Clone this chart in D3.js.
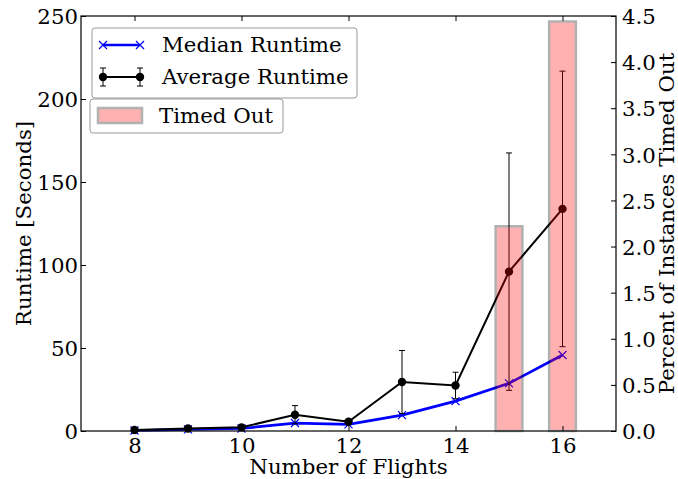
<!DOCTYPE html>
<html>
<head>
<meta charset="utf-8">
<script src="https://cdn.jsdelivr.net/npm/d3@7"></script>
<style>
  body { margin: 0; background: #fff; }
  svg text { font-family: "DejaVu Serif", serif; fill: #000; }
</style>
</head>
<body>
<svg id="chart" width="678" height="479"></svg>
<script>
// data
var flights = [8, 9, 10, 11, 12, 13, 14, 15, 16];
var medianRuntime = [0.3, 1.0, 1.5, 4.8, 4.0, 9.6, 18.0, 28.7, 45.8];
var averageRuntime = [0.6, 1.5, 2.2, 9.8, 5.6, 29.5, 27.4, 96.0, 133.8];
var averageError = [0.6, 0.8, 0.8, 5.5, 1.0, 19.0, 8.0, 71.5, 83.0];
var timedOut = [0, 0, 0, 0, 0, 0, 0, 2.22, 4.44];
var xTicks = [8, 10, 12, 14, 16];
var leftTicks = [0, 50, 100, 150, 200, 250];
var rightTicks = [0, 0.5, 1, 1.5, 2, 2.5, 3, 3.5, 4, 4.5];

// set the dimensions and margins of the graph
var margin = {top: 16, right: 62, bottom: 48, left: 81},
    width = 678 - margin.left - margin.right,
    height = 479 - margin.top - margin.bottom;

var x = d3.scaleLinear().domain([7, 17]).range([0, width]);
var y = d3.scaleLinear().domain([0, 250]).range([height, 0]);
var y2 = d3.scaleLinear().domain([0, 4.5]).range([height, 0]);

var svg = d3.select("#chart")
  .append("g")
    .attr("transform", "translate(" + margin.left + "," + margin.top + ")");

var fontSize = "21.3px";
var tickLen = 5;

// median line (blue, x markers)
var line = d3.line()
    .x(function(d, i) { return x(flights[i]); })
    .y(function(d) { return y(d); });

svg.append("path")
    .datum(medianRuntime)
    .attr("d", line)
    .attr("fill", "none")
    .attr("stroke", "#0000ff")
    .attr("stroke-width", 2.7);

function crossPath(cx, cy, s) {
  return "M" + (cx - s) + "," + (cy - s) + "L" + (cx + s) + "," + (cy + s) +
         "M" + (cx - s) + "," + (cy + s) + "L" + (cx + s) + "," + (cy - s);
}

svg.selectAll(".medmark")
  .data(medianRuntime)
  .join("path")
    .attr("class", "medmark")
    .attr("d", function(d, i) { return crossPath(x(flights[i]), y(d), 4); })
    .attr("stroke", "#0000ff")
    .attr("stroke-width", 1.2)
    .attr("fill", "none");

// average line with error bars
svg.append("path")
    .datum(averageRuntime)
    .attr("d", line)
    .attr("fill", "none")
    .attr("stroke", "#000")
    .attr("stroke-width", 2);

var errs = svg.selectAll(".err")
  .data(averageRuntime)
  .join("g")
    .attr("class", "err");

errs.append("line")
    .attr("x1", function(d, i) { return x(flights[i]); })
    .attr("x2", function(d, i) { return x(flights[i]); })
    .attr("y1", function(d, i) { return y(d + averageError[i]); })
    .attr("y2", function(d, i) { return y(Math.max(0, d - averageError[i])); })
    .attr("stroke", "#000")
    .attr("stroke-width", 1);

errs.append("line")
    .attr("x1", function(d, i) { return x(flights[i]) - 3; })
    .attr("x2", function(d, i) { return x(flights[i]) + 3; })
    .attr("y1", function(d, i) { return y(d + averageError[i]); })
    .attr("y2", function(d, i) { return y(d + averageError[i]); })
    .attr("stroke", "#000")
    .attr("stroke-width", 1);

errs.append("line")
    .attr("x1", function(d, i) { return x(flights[i]) - 3; })
    .attr("x2", function(d, i) { return x(flights[i]) + 3; })
    .attr("y1", function(d, i) { return y(Math.max(0, d - averageError[i])); })
    .attr("y2", function(d, i) { return y(Math.max(0, d - averageError[i])); })
    .attr("stroke", "#000")
    .attr("stroke-width", 1);

svg.selectAll(".avgmark")
  .data(averageRuntime)
  .join("circle")
    .attr("class", "avgmark")
    .attr("cx", function(d, i) { return x(flights[i]); })
    .attr("cy", function(d) { return y(d); })
    .attr("r", 4.2)
    .attr("fill", "#000");

// timed out bars (twin axis, drawn on top, translucent)
svg.selectAll(".bar")
  .data(timedOut)
  .join("rect")
    .attr("class", "bar")
    .attr("x", function(d, i) { return x(flights[i] - 0.25); })
    .attr("width", x(0.5) - x(0))
    .attr("y", function(d) { return y2(d); })
    .attr("height", function(d) { return height - y2(d); })
    .attr("fill", "#ff0000")
    .attr("stroke", "#000")
    .attr("stroke-width", 2.5)
    .attr("opacity", 0.3);

// axes
function styleAxis(g) {
  g.select(".domain").remove();
  g.selectAll(".tick line").attr("stroke", "#000").attr("stroke-width", 1);
  g.selectAll(".tick text").style("font-size", fontSize).attr("font-family", "DejaVu Serif");
}

svg.append("g")
    .attr("transform", "translate(0," + height + ")")
    .call(d3.axisBottom(x).tickValues(xTicks).tickSizeInner(-tickLen).tickSizeOuter(0).tickPadding(7).tickFormat(d3.format("d")))
    .call(styleAxis);

svg.append("g")
    .call(d3.axisTop(x).tickValues(xTicks).tickSizeInner(-tickLen).tickSizeOuter(0).tickFormat(""))
    .call(styleAxis);

svg.append("g")
    .call(d3.axisLeft(y).tickValues(leftTicks).tickSizeInner(-tickLen).tickSizeOuter(0).tickPadding(3).tickFormat(d3.format("d")))
    .call(styleAxis)
    .selectAll(".tick text").attr("dy", "0.36em");

svg.append("g")
    .attr("transform", "translate(" + width + ",0)")
    .call(d3.axisRight(y2).tickValues(rightTicks).tickSizeInner(-tickLen).tickSizeOuter(0).tickPadding(6).tickFormat(d3.format(".1f")))
    .call(styleAxis)
    .selectAll(".tick text").attr("dy", "0.36em");

// frame
svg.append("rect")
    .attr("width", width)
    .attr("height", height)
    .attr("fill", "none")
    .attr("stroke", "#000")
    .attr("stroke-width", 1.2);

// axis labels
svg.append("text")
    .attr("x", width / 2)
    .attr("y", height + 43)
    .attr("text-anchor", "middle")
    .style("font-size", fontSize)
    .text("Number of Flights");

svg.append("text")
    .attr("transform", "translate(" + (31 - margin.left) + "," + (height / 2) + ") rotate(-90)")
    .attr("text-anchor", "middle")
    .style("font-size", fontSize)
    .text("Runtime [Seconds]");

svg.append("text")
    .attr("transform", "translate(" + (width + 57.5) + "," + (height / 2) + ") rotate(-90)")
    .attr("text-anchor", "middle")
    .style("font-size", fontSize)
    .text("Percent of Instances Timed Out");

// legends
var leg = d3.select("#chart").append("g");

leg.append("rect")
    .attr("x", 92).attr("y", 28).attr("width", 265).attr("height", 70)
    .attr("rx", 3)
    .attr("fill", "#fff").attr("stroke", "#999").attr("stroke-width", 1);

leg.append("line")
    .attr("x1", 103).attr("x2", 140).attr("y1", 45).attr("y2", 45)
    .attr("stroke", "#0000ff").attr("stroke-width", 2.7);
[103, 140].forEach(function(px) {
  leg.append("path").attr("d", crossPath(px, 45, 4))
    .attr("stroke", "#0000ff").attr("stroke-width", 1.2);
});
leg.append("text").attr("x", 162).attr("y", 45).attr("dy", "0.35em")
    .style("font-size", fontSize).text("Median Runtime");

leg.append("line")
    .attr("x1", 103).attr("x2", 140).attr("y1", 77).attr("y2", 77)
    .attr("stroke", "#000").attr("stroke-width", 2);
[103, 140].forEach(function(px) {
  leg.append("line").attr("x1", px).attr("x2", px).attr("y1", 68).attr("y2", 86)
    .attr("stroke", "#000").attr("stroke-width", 1);
  leg.append("line").attr("x1", px - 3).attr("x2", px + 3).attr("y1", 68).attr("y2", 68)
    .attr("stroke", "#000").attr("stroke-width", 1);
  leg.append("line").attr("x1", px - 3).attr("x2", px + 3).attr("y1", 86).attr("y2", 86)
    .attr("stroke", "#000").attr("stroke-width", 1);
  leg.append("circle").attr("cx", px).attr("cy", 77).attr("r", 4.2).attr("fill", "#000");
});
leg.append("text").attr("x", 162).attr("y", 77).attr("dy", "0.35em")
    .style("font-size", fontSize).text("Average Runtime");

leg.append("rect")
    .attr("x", 90).attr("y", 99).attr("width", 193).attr("height", 34)
    .attr("rx", 3)
    .attr("fill", "#fff").attr("stroke", "#999").attr("stroke-width", 1);
leg.append("rect")
    .attr("x", 98).attr("y", 108).attr("width", 44).attr("height", 15)
    .attr("fill", "#ff0000").attr("stroke", "#000").attr("stroke-width", 2.5)
    .attr("opacity", 0.3);
leg.append("text").attr("x", 159).attr("y", 116).attr("dy", "0.35em")
    .style("font-size", fontSize).text("Timed Out");
</script>
</body>
</html>
